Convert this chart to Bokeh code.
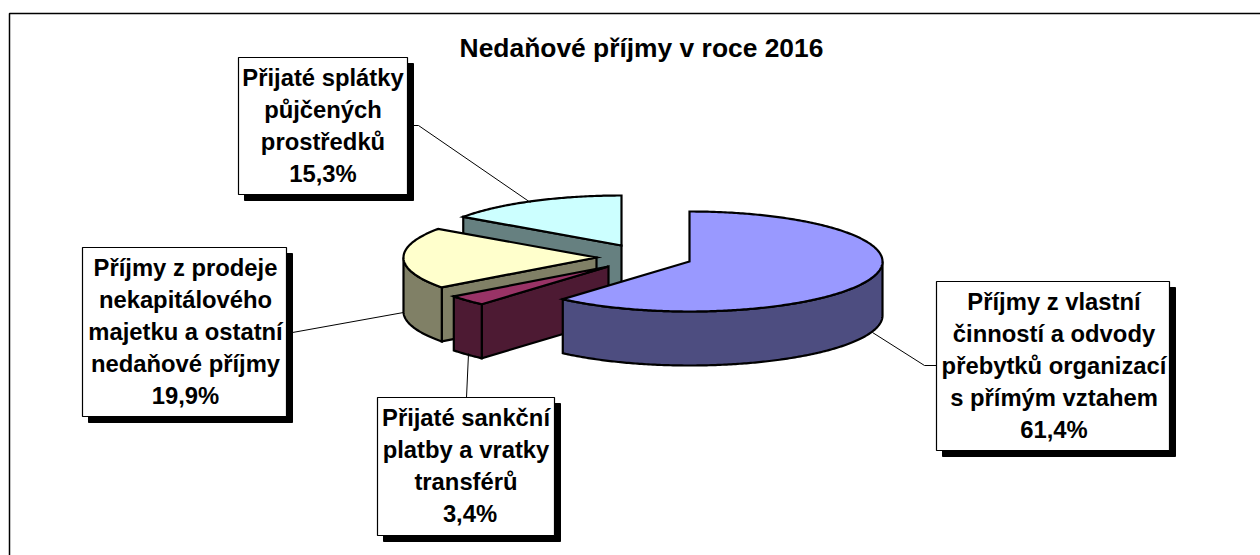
from math import sin, cos, radians
from bokeh.plotting import figure
from bokeh.models import Range1d, ColumnDataSource
from bokeh.core.properties import value
from bokeh.embed import file_html
from bokeh.resources import INLINE

TITLE = "Nedaňové příjmy v roce 2016"
categories = [
    ["Příjmy z vlastní", "činností a odvody", "přebytků organizací", "s přímým vztahem"],
    ["Přijaté sankční", "platby a vratky", "transférů"],
    ["Příjmy z prodeje", "nekapitálového", "majetku a ostatní", "nedaňové příjmy"],
    ["Přijaté splátky", "půjčených", "prostředků"],
]
shares = [61.4, 3.4, 19.9, 15.3]
share_labels = ["61,4%", "3,4%", "19,9%", "15,3%"]
top_colors = ["#9999FF", "#993366", "#FFFFCC", "#CCFFFF"]
wall_colors = ["#4D4D80", "#4D1A33", "#808066", "#668080"]

# layout, in page pixels
RX, RY, DEPTH = 193, 50, 54
apexes = [(689, 261), (608, 266), (596, 257), (621, 245)]
boxes = [(936, 281, 1169, 450), (377, 397, 554, 535), (82, 247, 286, 416), (238, 57, 407, 194)]
text_dx = [1, 0, 1, 0]
last_dx = [1, 4, 1, 0]
leaders = [
    [(872, 332), (924, 365), (936, 365)],
    [(468, 353), (466, 397)],
    [(403, 312), (292, 332)],
    [(530, 202), (418, 125), (407, 125)],
]
SHADOW = 6
LINE_H = 32
FONT = value("Liberation Sans")

p = figure(width=1260, height=555, output_backend="svg", toolbar_location=None,
           x_range=Range1d(0, 1260), y_range=Range1d(555, 0),
           x_axis_type=None, y_axis_type=None, min_border=0, outline_line_color=None)
p.grid.visible = False

# chart frame, running off the page
p.line([9, 9, 1260], [555, 13, 13], line_color="black", line_width=1.5)

p.text([641], [47], text=[TITLE], text_font=FONT, text_font_style="bold",
       text_font_size="26.4px", text_align="center", text_baseline="middle", text_color="black")


def point(cx, cy, deg, dz=0):
    a = radians(deg)
    return cx + RX * sin(a), cy - RY * cos(a) + dz


def arc(cx, cy, a0, a1, dz=0):
    n = max(2, int(abs(a1 - a0) * 1.5))
    return [point(cx, cy, a0 + (a1 - a0) * i / n, dz) for i in range(n + 1)]


def add_poly(pts, fill):
    p.patch([q[0] for q in pts], [q[1] for q in pts], fill_color=fill,
            line_color="black", line_width=2.2, line_join="miter")


def radial_face(cx, cy, a, fill):
    o = point(cx, cy, a)
    add_poly([(cx, cy), o, (o[0], o[1] + DEPTH), (cx, cy + DEPTH)], fill)


# slices, clockwise from twelve o'clock, back to front
total = sum(shares)
starts, acc = [], 0.0
for s in shares:
    starts.append(acc / total * 360)
    acc += s

for i in [3, 2, 1, 0]:
    cx, cy = apexes[i]
    a0, a1 = starts[i], starts[i] + shares[i] / total * 360
    # radial faces turned towards the viewer
    if a0 > 180:
        radial_face(cx, cy, a0, wall_colors[i])
    if a1 < 180:
        radial_face(cx, cy, a1, wall_colors[i])
    # front part of the rim
    f0, f1 = max(a0, 90), min(a1, 270)
    if f1 > f0:
        add_poly(arc(cx, cy, f0, f1) + arc(cx, cy, f1, f0, DEPTH), wall_colors[i])
    # top
    add_poly([(cx, cy)] + arc(cx, cy, a0, a1), top_colors[i])

# leader lines
for pts in leaders:
    p.line([q[0] for q in pts], [q[1] for q in pts], line_color="black", line_width=1)

# data label boxes
for i, (x0, y0, x1, y1) in enumerate(boxes):
    p.quad(left=[x0 + SHADOW], right=[x1 + SHADOW], top=[y0 + SHADOW], bottom=[y1 + SHADOW],
           fill_color="black", line_color="black", line_width=1)
    p.quad(left=[x0], right=[x1], top=[y0], bottom=[y1],
           fill_color="white", line_color="black", line_width=1.2)
    lines = categories[i] + [share_labels[i]]
    xc = (x0 + x1) / 2
    yc = (y0 + y1) / 2 - 1
    n = len(lines)
    src = ColumnDataSource(dict(
        x=[xc + (last_dx[i] if k == n - 1 else text_dx[i]) for k in range(n)],
        y=[yc + (k - (n - 1) / 2) * LINE_H for k in range(n)],
        t=lines))
    p.text("x", "y", text="t", source=src, text_font=FONT, text_font_style="bold",
           text_font_size="23.8px", text_align="center", text_baseline="middle", text_color="black")

open("out.html", "w").write(file_html(p, INLINE))
